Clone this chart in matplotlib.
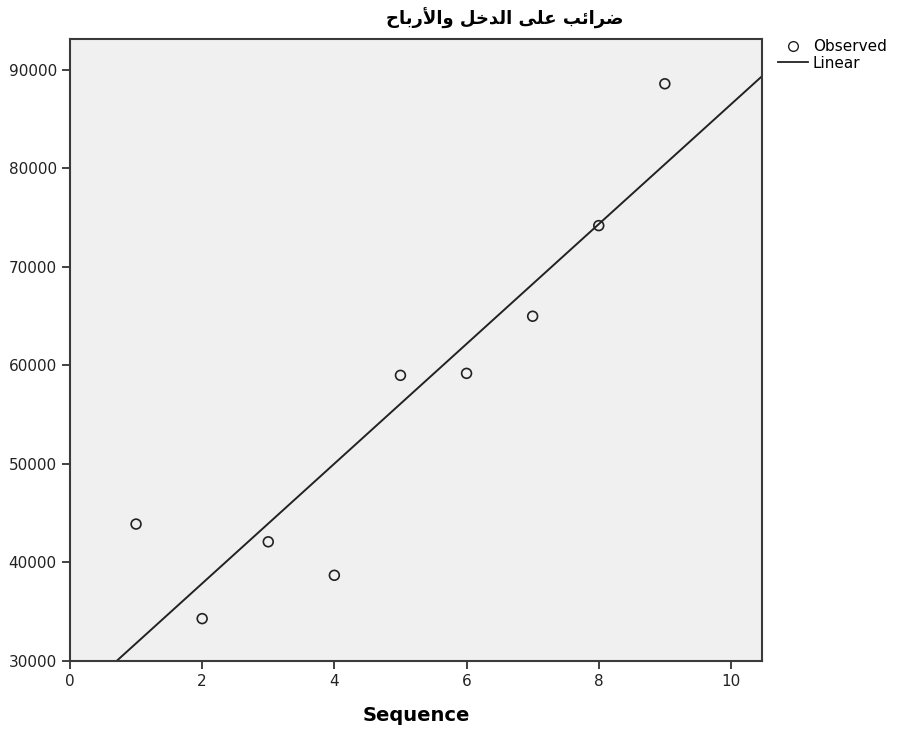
import numpy as np
import matplotlib
matplotlib.use('Agg')
import matplotlib.pyplot as plt
from matplotlib.lines import Line2D

# data
seq = [1, 2, 3, 4, 5, 6, 7, 8, 9]
observed = [43900, 34300, 42100, 38700, 59000, 59200, 65000, 74200, 88600]
xticks = [0, 2, 4, 6, 8, 10]
yticks = [30000, 40000, 50000, 60000, 70000, 80000, 90000]

# arabic title, shaped forms in visual order (no reshaper available)
title_logical = ('\uFEBF\uFEAE\uFE8D\uFE8B\uFE90 '
                 '\uFECB\uFEE0\uFEF0 '
                 '\uFE8D\uFEDF\uFEAA\uFEA7\uFEDE '
                 '\uFEED\uFE8D\uFEF7\uFEAD\uFE91\uFE8E\uFEA1')
title = title_logical[::-1]

fig = plt.figure(figsize=(8.97, 7.35), dpi=100)
ax = fig.add_axes([0.078, 0.1007, 0.7715, 0.8463])
ax.set_facecolor('#f0f0f0')

xmin, xmax = 0, 10.47
ymin, ymax = 30000, 93150

# linear fit
b, a = np.polyfit(seq, observed, 1)
xs = np.linspace(xmin, xmax, 200)
ax.plot(xs, a + b * xs, color='#222222', lw=1.4, zorder=2)

ax.scatter(seq, observed, s=50, facecolors='none', edgecolors='#222222',
           linewidths=1.2, zorder=3)

ax.set_xlim(xmin, xmax)
ax.set_ylim(ymin, ymax)
ax.set_xticks(xticks)
ax.set_yticks(yticks)
ax.tick_params(labelsize=11, length=6, width=1.3, color='#333333', labelcolor='#222222')
for s in ax.spines.values():
    s.set_color('#3a3a3a')
    s.set_linewidth(1.5)

ax.set_xlabel('Sequence', fontsize=14, fontweight='bold', labelpad=12)
fig.text(0.563, 0.975, title, fontsize=13, fontweight='bold',
         ha='center', va='center', family=['DejaVu Sans'])

handles = [Line2D([], [], marker='o', ls='none', markerfacecolor='none',
                  markeredgecolor='#222222', markersize=7),
           Line2D([], [], color='#222222', lw=1.3)]
fig.legend(handles, ['Observed', 'Linear'], loc='upper left',
           bbox_to_anchor=(0.86, 0.955), frameon=False, fontsize=11,
           handlelength=2.0, handletextpad=0.3, labelspacing=0.1,
           borderaxespad=0)

fig.savefig('out.png', dpi=100)
